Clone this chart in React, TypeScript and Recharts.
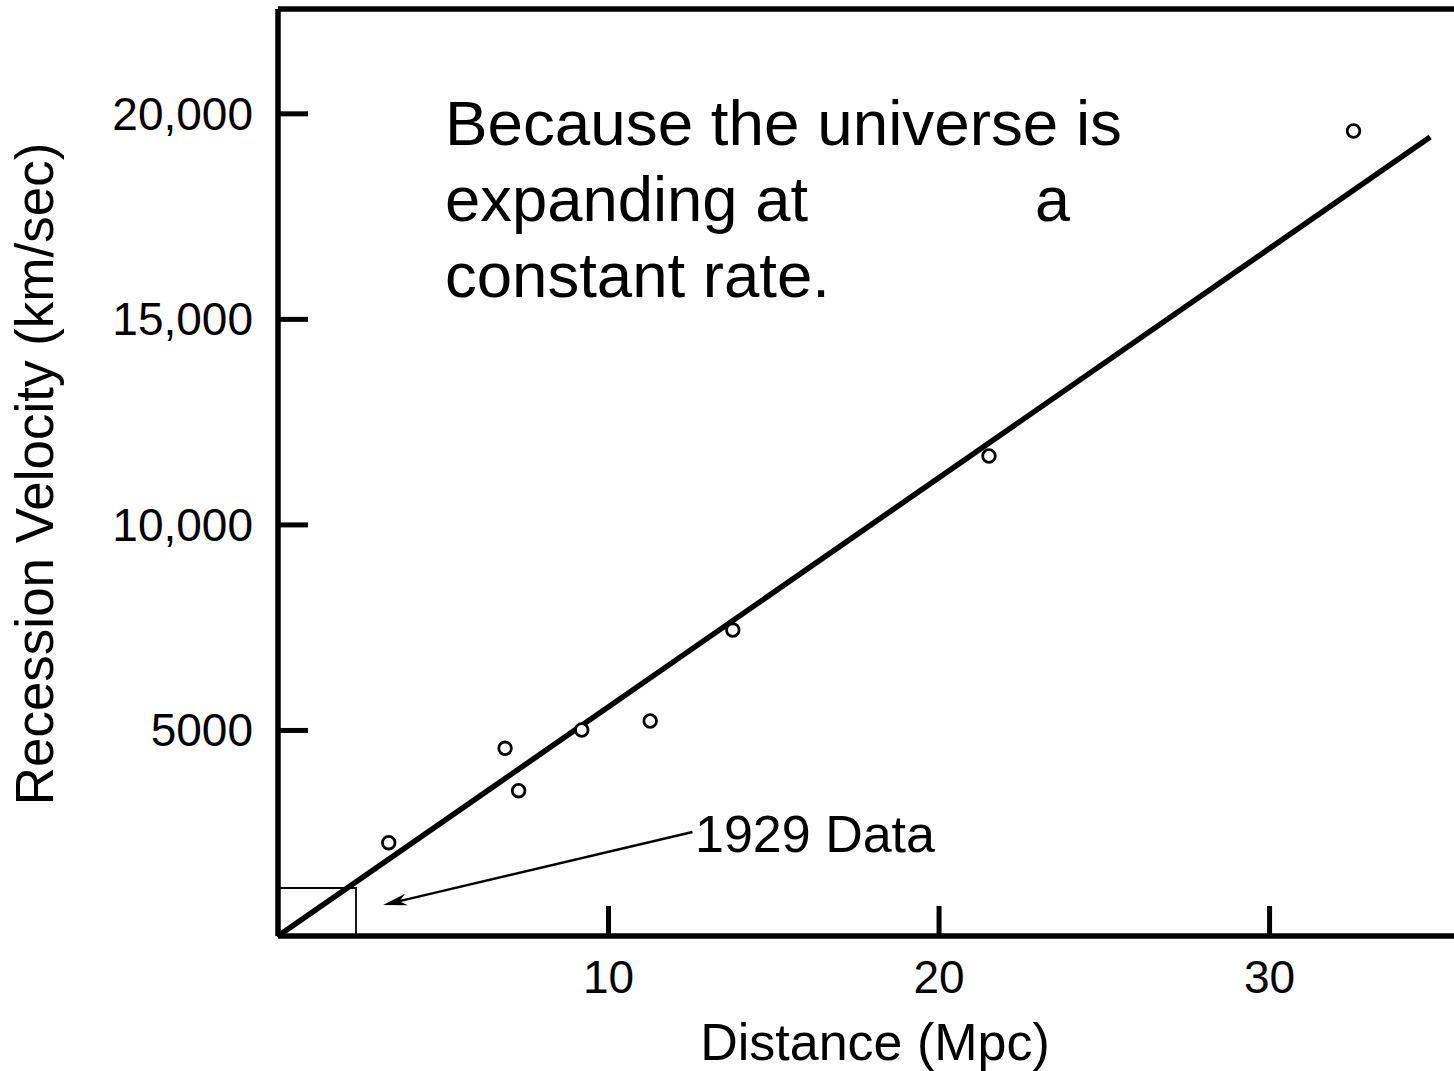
import { ComposedChart, Scatter, XAxis, YAxis, ReferenceArea, ReferenceLine } from 'recharts';

// galaxy distances (Mpc) and recession velocities (km/sec)
const distances = [3.35, 6.87, 7.28, 9.19, 11.26, 13.76, 21.51, 32.54];
const velocities = [2270, 4566, 3534, 5011, 5230, 7443, 11676, 19582];

// straight-line fit, start and end
const fitDistances = [0, 34.86];
const fitVelocities = [0, 19436];

// box around the 1929 data and the arrow pointing at it
const boxDistance = [0, 2.36];
const boxVelocity = [0, 1168];
const arrowDistance = [12.54, 3.18];
const arrowVelocity = [2530, 754];

const xTicks = [10, 20, 30];
const yTicks = [5000, 10000, 15000, 20000];
const yTickLabels = ['5000', '10,000', '15,000', '20,000'];

const X_MAX = 35.58;
const Y_MAX = 22550;

const FONT = 'Liberation Sans, Arial, Helvetica, sans-serif';

const points = distances.map((d, i) => ({ d, v: velocities[i] }));

const YTick = (props: any) => {
  const { x, y, payload } = props;
  const idx = yTicks.indexOf(payload.value);
  return (
    <g>
      <line x1={x} y1={y} x2={x + 30} y2={y} stroke="#000" strokeWidth={5} />
      <text x={x - 25} y={y + 16} textAnchor="end" fontSize={46} fontFamily={FONT} fill="#000">
        {yTickLabels[idx]}
      </text>
    </g>
  );
};

const XTick = (props: any) => {
  const { x, y, payload } = props;
  return (
    <g>
      <line x1={x} y1={y} x2={x} y2={y - 30} stroke="#000" strokeWidth={5} />
      <text x={x} y={y + 57} textAnchor="middle" fontSize={46} fontFamily={FONT} fill="#000">
        {payload.value}
      </text>
    </g>
  );
};

// annotation arrow: tail at first segment point, head at second
const Arrow = (props: any) => {
  const { x1, y1, x2, y2 } = props;
  const ang = Math.atan2(y2 - y1, x2 - x1);
  const len = 24;
  const half = 6;
  const bx = x2 - len * Math.cos(ang);
  const by = y2 - len * Math.sin(ang);
  const nx = x2 - len * 0.7 * Math.cos(ang);
  const ny = y2 - len * 0.7 * Math.sin(ang);
  const px = -Math.sin(ang) * half;
  const py = Math.cos(ang) * half;
  return (
    <g>
      <line x1={x1} y1={y1} x2={nx} y2={ny} stroke="#000" strokeWidth={2.5} />
      <path
        d={`M${x2},${y2} L${bx + px},${by + py} L${nx},${ny} L${bx - px},${by - py} Z`}
        fill="#000"
      />
    </g>
  );
};

const Dot = (props: any) => (
  <circle cx={props.cx} cy={props.cy} r={6.3} fill="#fff" stroke="#000" strokeWidth={2.8} />
);

export default function App() {
  return (
    <div style={{ position: 'absolute', left: 0, top: 0, width: 1454, height: 1071, background: '#fff' }}>
      <ComposedChart width={1454} height={1071} margin={{ top: 9, right: 0, bottom: 0, left: 0 }}>
        <XAxis
          type="number"
          dataKey="d"
          domain={[0, X_MAX]}
          ticks={xTicks}
          allowDataOverflow
          height={135}
          tickSize={0}
          tickMargin={0}
          tickLine={false}
          axisLine={{ stroke: '#000', strokeWidth: 5.5 }}
          tick={<XTick />}
        />
        <YAxis
          type="number"
          dataKey="v"
          domain={[0, Y_MAX]}
          ticks={yTicks}
          allowDataOverflow
          width={278}
          tickSize={0}
          tickMargin={0}
          tickLine={false}
          axisLine={{ stroke: '#000', strokeWidth: 5.5 }}
          tick={<YTick />}
        />
        <ReferenceLine y={Y_MAX} stroke="#000" strokeWidth={5.5} ifOverflow="visible" />
        <ReferenceArea
          x1={boxDistance[0]}
          x2={boxDistance[1]}
          y1={boxVelocity[0]}
          y2={boxVelocity[1]}
          fill="none"
          fillOpacity={0}
          stroke="#000"
          strokeWidth={1.8}
        />
        <ReferenceLine
          segment={[
            { x: fitDistances[0], y: fitVelocities[0] },
            { x: fitDistances[1], y: fitVelocities[1] },
          ]}
          stroke="#000"
          strokeWidth={5.5}
          ifOverflow="visible"
        />
        <ReferenceLine
          segment={[
            { x: arrowDistance[0], y: arrowVelocity[0] },
            { x: arrowDistance[1], y: arrowVelocity[1] },
          ]}
          shape={<Arrow />}
          ifOverflow="visible"
        />
        <Scatter data={points} dataKey="v" shape={<Dot />} isAnimationActive={false} />
        <text x={695} y={852} fontSize={52} fontFamily={FONT} fill="#000">1929 Data</text>
        <text x={875} y={1060} textAnchor="middle" fontSize={52} fontFamily={FONT} fill="#000">
          Distance (Mpc)
        </text>
        <text
          transform="translate(53,474) rotate(-90)"
          textAnchor="middle"
          fontSize={53}
          fontFamily={FONT}
          fill="#000"
        >
          Recession Velocity (km/sec)
        </text>
        <text fontSize={63} fontFamily={FONT} fill="#000" lengthAdjust="spacingAndGlyphs">
          <tspan x={445} y={145} textLength={677} lengthAdjust="spacingAndGlyphs">Because the universe is</tspan>
          <tspan x={445} y={221} textLength={363} lengthAdjust="spacingAndGlyphs">expanding at</tspan>
          <tspan x={1035} y={221}>a</tspan>
          <tspan x={445} y={297} textLength={385} lengthAdjust="spacingAndGlyphs">constant rate.</tspan>
        </text>
      </ComposedChart>
    </div>
  );
}
